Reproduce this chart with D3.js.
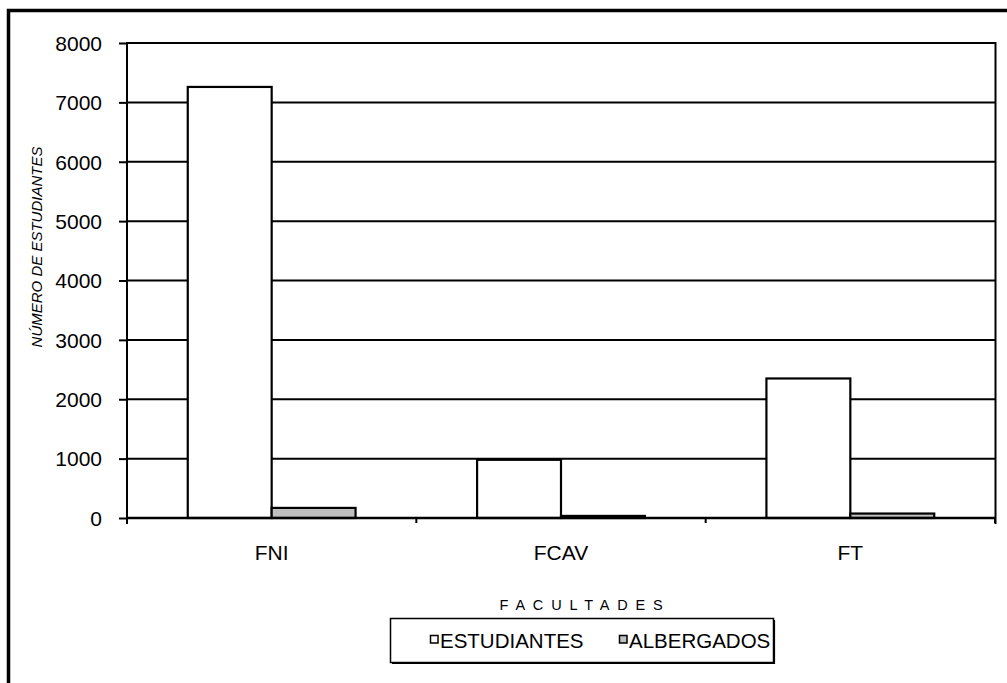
<!DOCTYPE html>
<html><head><meta charset="utf-8">
<script src="https://cdn.jsdelivr.net/npm/d3@7"></script>
<style>
html,body{margin:0;padding:0;background:#fff;}
svg{display:block;font-family:"Liberation Sans",Arial,sans-serif;}
</style></head>
<body>
<svg id="c" width="1007" height="683"></svg>
<script>
const categories = ["FNI", "FCAV", "FT"];
const seriesNames = ["ESTUDIANTES", "ALBERGADOS"];
const estudiantes = [7260, 980, 2350];
const albergados = [170, 35, 75];
const yTicks = [0, 1000, 2000, 3000, 4000, 5000, 6000, 7000, 8000];
const seriesColors = ["#ffffff", "#c0c0c0"];

const svg = d3.select("#c");
const L = 127, R = 995, T = 43, B = 518;

// outer chart border (cropped on right and bottom)
svg.append("path").attr("d", "M8.5,690 V10.5 H1015")
  .attr("fill", "none").attr("stroke", "#000").attr("stroke-width", 3.5);

const x0 = d3.scaleBand().domain(categories).range([L, R]).padding(0);
const x1 = d3.scaleBand().domain(seriesNames)
  .range([x0.bandwidth() * 0.21, x0.bandwidth() * 0.79]).padding(0);
const y = d3.scaleLinear().domain([0, 8000]).range([B, T]);

// gridlines
svg.append("g").selectAll("line").data(yTicks.filter(d => d > 0)).join("line")
  .attr("x1", L).attr("x2", R).attr("y1", d => y(d)).attr("y2", d => y(d))
  .attr("stroke", "#000").attr("stroke-width", 2);

// plot area right border
svg.append("line").attr("x1", R + 0.5).attr("x2", R + 0.5).attr("y1", T - 1).attr("y2", B + 6)
  .attr("stroke", "#000").attr("stroke-width", 2);

// bars
const data = categories.map((c, i) => ({ cat: c, vals: [estudiantes[i], albergados[i]] }));
const g = svg.append("g");
data.forEach(d => {
  d.vals.forEach((v, j) => {
    g.append("rect")
      .attr("x", x0(d.cat) + x1(seriesNames[j]))
      .attr("y", y(v))
      .attr("width", x1.bandwidth())
      .attr("height", B - y(v))
      .attr("fill", seriesColors[j])
      .attr("stroke", "#000").attr("stroke-width", 2.2);
  });
});

// y axis
const yAxis = d3.axisLeft(y).tickValues(yTicks).tickSize(8).tickPadding(17).tickFormat(d3.format("d"));
const ya = svg.append("g").attr("transform", `translate(${L},0)`).call(yAxis);
ya.select(".domain").remove();
ya.selectAll(".tick line").attr("stroke", "#000").attr("stroke-width", 2);
ya.selectAll(".tick text").attr("font-size", 21).attr("fill", "#000")
  .attr("font-family", "Liberation Sans, Arial, sans-serif").attr("dy", "0.35em");
svg.append("line").attr("x1", L).attr("x2", L).attr("y1", T - 1).attr("y2", B + 6)
  .attr("stroke", "#000").attr("stroke-width", 2);

// x axis
svg.append("line").attr("x1", L).attr("x2", R).attr("y1", B).attr("y2", B)
  .attr("stroke", "#000").attr("stroke-width", 2.5);
const catTicks = categories.map(c => x0(c)).concat([R]);
svg.append("g").selectAll("line").data(catTicks).join("line")
  .attr("x1", d => d).attr("x2", d => d).attr("y1", B).attr("y2", B + 5)
  .attr("stroke", "#000").attr("stroke-width", 2);
svg.append("g").selectAll("text").data(categories).join("text")
  .attr("x", d => x0(d) + x0.bandwidth() / 2).attr("y", 560)
  .attr("text-anchor", "middle").attr("font-size", 21).attr("fill", "#000").text(d => d);

// y title
svg.append("text").attr("transform", "translate(42,247) rotate(-90)")
  .attr("text-anchor", "middle").attr("font-size", 15).attr("font-style", "italic")
  .attr("fill", "#000").text("NÚMERO DE ESTUDIANTES");

// x title
svg.append("text").attr("x", 581 + 4).attr("y", 610)
  .attr("text-anchor", "middle").attr("font-size", 14.5).attr("letter-spacing", 7.8)
  .attr("fill", "#000").text("FACULTADES");

// legend
const lg = svg.append("g");
lg.append("rect").attr("x", 390.5).attr("y", 618.5).attr("width", 383).attr("height", 44)
  .attr("fill", "#fff").attr("stroke", "#000").attr("stroke-width", 1.5);
lg.append("line").attr("x1", 392).attr("x2", 775).attr("y1", 663.5).attr("y2", 663.5)
  .attr("stroke", "#000").attr("stroke-width", 1.2);
lg.append("line").attr("x1", 774.5).attr("x2", 774.5).attr("y1", 620).attr("y2", 664)
  .attr("stroke", "#000").attr("stroke-width", 1.2);
const legX = [430, 619];
seriesNames.forEach((s, j) => {
  lg.append("rect").attr("x", legX[j] + 0.5).attr("y", 635.5).attr("width", 7.5).attr("height", 7.5)
    .attr("fill", seriesColors[j]).attr("stroke", "#000").attr("stroke-width", 1.5);
  lg.append("text").attr("x", legX[j] + 10).attr("y", 648).attr("font-size", 20.5)
    .attr("fill", "#000").text(s);
});
</script>
</body></html>
